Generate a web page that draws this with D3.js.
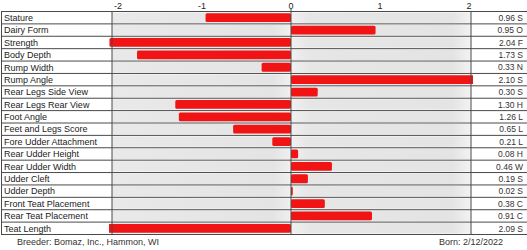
<!DOCTYPE html>
<html lang="en">
<head>
    <meta charset="UTF-8">
    <title>Linear Trait Profile</title>
    <script src="https://d3js.org/d3.v7.min.js"></script>
    <style>
        body { margin: 0; background: #fff; }
        svg text { font-family: "Liberation Sans", Arial, sans-serif; }
        .trait_label { font-size: 9px; fill: #222; }
        .value_label { font-size: 8.5px; fill: #333; text-anchor: end; }
        .tick_label { font-size: 9px; fill: #222; text-anchor: middle; }
        .footer { font-size: 9px; fill: #333; }
        .row_line { stroke: #4a4a4a; stroke-width: 1; }
        .bar { fill: #f01414; }
    </style>
</head>
<body>
    <script>
        const traits = ['Stature', 'Dairy Form', 'Strength', 'Body Depth', 'Rump Width', 'Rump Angle',
            'Rear Legs Side View', 'Rear Legs Rear View', 'Foot Angle', 'Feet and Legs Score',
            'Fore Udder Attachment', 'Rear Udder Height', 'Rear Udder Width', 'Udder Cleft',
            'Udder Depth', 'Front Teat Placement', 'Rear Teat Placement', 'Teat Length'];
        const values = [-0.96, 0.95, -2.04, -1.73, -0.33, 2.10, 0.30, -1.30, -1.26, -0.65,
            -0.21, 0.08, 0.46, 0.19, 0.02, 0.38, 0.91, -2.09];
        const codes = ['S', 'O', 'F', 'S', 'N', 'S', 'S', 'H', 'L', 'L', 'L', 'H', 'W', 'S', 'S', 'C', 'C', 'S'];
        const ticks = [-2, -1, 0, 1, 2];

        const width = 527, height = 250;
        const svg = d3.select('body').append('svg')
            .attr('width', width)
            .attr('height', height);

        const xScale = d3.scaleLinear()
            .domain([-2, 2])
            .range([113, 469]);

        const yScale = d3.scaleBand()
            .domain(traits)
            .range([11.5, 234.5]);

        // plot limits (bars past +-2 get cut here)
        const plotLeft = 112, plotRight = 471;

        // gray row bands
        const grad = svg.append('defs').append('linearGradient')
            .attr('id', 'band');
        grad.append('stop').attr('offset', '0%').attr('stop-color', '#e9e9e9');
        grad.append('stop').attr('offset', '45%').attr('stop-color', '#e4e4e4');
        grad.append('stop').attr('offset', '50%').attr('stop-color', '#f0f0f0');
        grad.append('stop').attr('offset', '55%').attr('stop-color', '#e6e6e6');
        grad.append('stop').attr('offset', '95%').attr('stop-color', '#e4e4e4');
        grad.append('stop').attr('offset', '100%').attr('stop-color', '#f3f3f3');

        svg.select('defs').append('clipPath')
            .attr('id', 'plot-clip')
            .append('rect')
            .attr('x', plotLeft - 3)
            .attr('y', 0)
            .attr('width', plotRight - plotLeft + 5)
            .attr('height', height);

        svg.selectAll('.band')
            .data(traits)
            .enter().append('rect')
            .attr('class', 'band')
            .attr('x', plotLeft)
            .attr('y', d => yScale(d) + 1)
            .attr('width', plotRight - plotLeft)
            .attr('height', yScale.bandwidth() - 2)
            .attr('fill', 'url(#band)');

        // bars
        svg.append('g')
            .attr('clip-path', 'url(#plot-clip)')
            .selectAll('.bar')
            .data(values)
            .enter().append('rect')
            .attr('class', 'bar')
            .attr('x', d => xScale(Math.min(0, d)))
            .attr('y', (d, i) => yScale(traits[i]) + 1.8)
            .attr('width', d => Math.abs(xScale(d) - xScale(0)))
            .attr('height', yScale.bandwidth() - 3.6)
            .attr('rx', 1.5);

        // horizontal row lines
        const edges = traits.map(d => yScale(d)).concat([yScale.range()[1]]);
        svg.selectAll('.row_line')
            .data(edges)
            .enter().append('line')
            .attr('class', 'row_line')
            .attr('x1', 1)
            .attr('x2', width)
            .attr('y1', d => d)
            .attr('y2', d => d);

        // vertical lines
        [1.5, plotLeft, xScale(0), plotRight].forEach(x => {
            svg.append('line')
                .attr('class', 'row_line')
                .attr('x1', x).attr('x2', x)
                .attr('y1', x === xScale(0) ? 9 : yScale.range()[0])
                .attr('y2', yScale.range()[1]);
        });

        // tick labels on top
        svg.selectAll('.tick_label')
            .data(ticks)
            .enter().append('text')
            .attr('class', 'tick_label')
            .attr('x', d => xScale(d) + (d === -2 ? 5 : 0))
            .attr('y', 9)
            .text(d => d);

        svg.selectAll('.trait_label')
            .data(traits)
            .enter().append('text')
            .attr('class', 'trait_label')
            .attr('x', 4)
            .attr('y', d => yScale(d) + yScale.bandwidth() / 2 + 3.3)
            .text(d => d);

        svg.selectAll('.value_label')
            .data(values)
            .enter().append('text')
            .attr('class', 'value_label')
            .attr('x', 523)
            .attr('y', (d, i) => yScale(traits[i]) + yScale.bandwidth() / 2 + 3.2)
            .text((d, i) => Math.abs(d).toFixed(2) + ' ' + codes[i]);

        svg.append('text')
            .attr('class', 'footer')
            .attr('x', 88)
            .attr('y', 245)
            .attr('text-anchor', 'middle')
            .text('Breeder:  Bomaz, Inc., Hammon, WI');

        svg.append('text')
            .attr('class', 'footer')
            .attr('x', 471)
            .attr('y', 245)
            .attr('text-anchor', 'middle')
            .text('Born:  2/12/2022');
    </script>
</body>
</html>
